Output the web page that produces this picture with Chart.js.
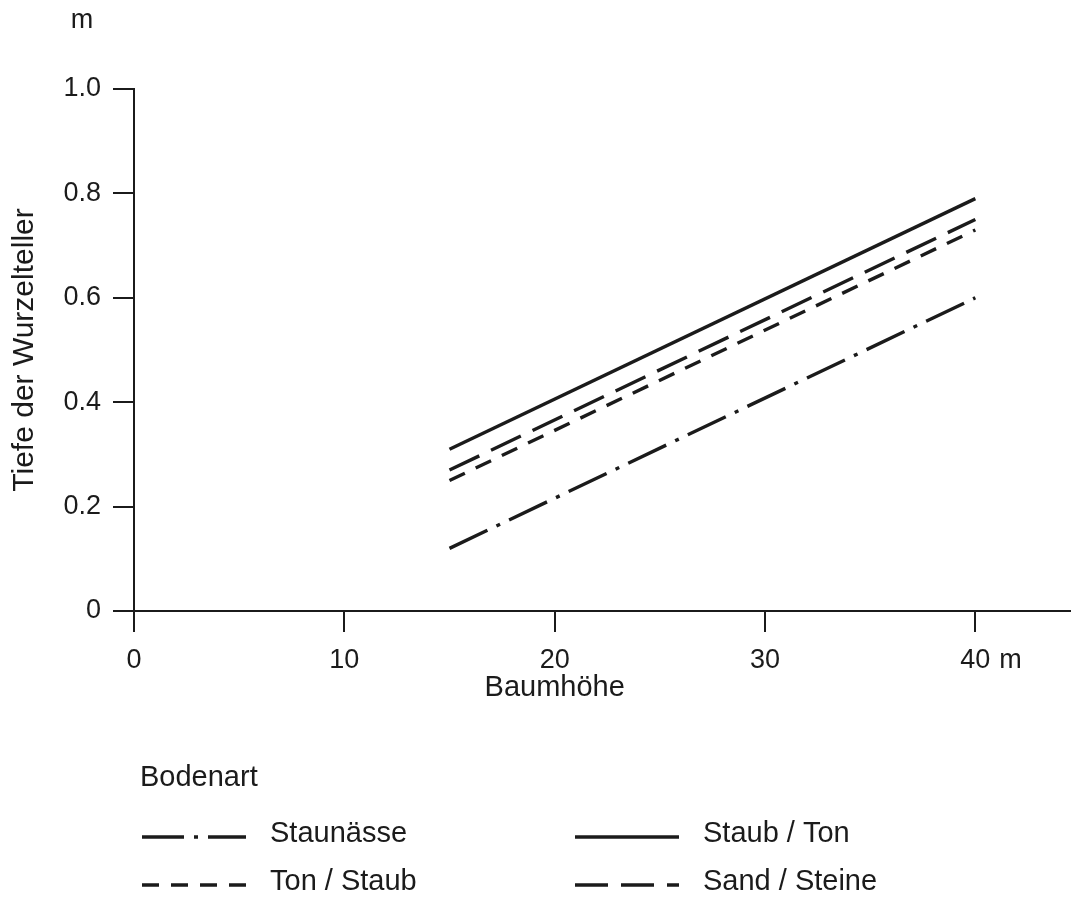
<!DOCTYPE html>
<html><head><meta charset="utf-8">
<script src="https://cdn.jsdelivr.net/npm/chart.js@4"></script>
<style>html,body{margin:0;padding:0;background:#fff}#wrap{width:1073px;height:903px}canvas{display:block}</style>
</head><body><div id="wrap"><canvas id="c" width="1073" height="903"></canvas></div>
<script>
// ---- data ----
const seriesNames = ['Staunässe', 'Staub / Ton', 'Ton / Staub', 'Sand / Steine'];
const baumhoehe = [15, 40];            // x values (m)
const staunaesse = [0.12, 0.60];
const staubTon = [0.31, 0.79];
const tonStaub = [0.25, 0.73];
const sandSteine = [0.27, 0.75];
const xTickValues = [0, 10, 20, 30, 40];
const xTickLabels = ['0', '10', '20', '30', '40'];
const yTickValues = [0, 0.2, 0.4, 0.6, 0.8, 1.0];
const yTickLabels = ['0', '0.2', '0.4', '0.6', '0.8', '1.0'];
const xTitle = 'Baumhöhe';
const yTitle = 'Tiefe der Wurzelteller';
const unitLabel = 'm';
const legendTitle = 'Bodenart';

const INK = '#1b1b1b';
const FONT = '"Liberation Sans", Arial, Helvetica, sans-serif';
const FS_TICK = 27;
const FS_TEXT = 29;
const FS_YTITLE = 30;

function pts(ys) { return baumhoehe.map((x, i) => ({x: x, y: ys[i]})); }

const dashes = {
  'Staunässe': [42, 10, 4, 10],
  'Staub / Ton': [],
  'Ton / Staub': [17, 12],
  'Sand / Steine': [33, 13]
};
const seriesData = {
  'Staunässe': staunaesse,
  'Staub / Ton': staubTon,
  'Ton / Staub': tonStaub,
  'Sand / Steine': sandSteine
};

const datasets = seriesNames.map(n => ({
  label: n,
  data: pts(seriesData[n]),
  borderColor: INK,
  borderWidth: 3.4,
  borderDash: dashes[n],
  borderCapStyle: 'butt',
  pointRadius: 0,
  fill: false,
  tension: 0
}));

const legendPlugin = {
  id: 'customText',
  afterDraw(chart) {
    const ctx = chart.ctx;
    const xs = chart.scales.x;
    ctx.save();
    ctx.fillStyle = INK;
    ctx.textBaseline = 'middle';
    // y unit
    ctx.font = FS_TICK + 'px ' + FONT;
    ctx.textAlign = 'center';
    ctx.fillText(unitLabel, 82, 21);
    // x unit after last tick
    const lastV = xTickValues[xTickValues.length - 1];
    const w = ctx.measureText(xTickLabels[xTickLabels.length - 1]).width;
    ctx.textAlign = 'left';
    ctx.fillText(unitLabel, xs.getPixelForValue(lastV) + w / 2 + 9, 661);
    // x title
    ctx.font = FS_TEXT + 'px ' + FONT;
    ctx.textAlign = 'center';
    ctx.fillText(xTitle, xs.getPixelForValue(20), 688);
    // legend
    ctx.textAlign = 'left';
    ctx.fillText(legendTitle, 140, 778);
    const cols = [142, 575];
    const rows = [837, 885];
    const order = [['Staunässe', 0, 0], ['Staub / Ton', 1, 0], ['Ton / Staub', 0, 1], ['Sand / Steine', 1, 1]];
    order.forEach(([name, c, r]) => {
      const ds = chart.data.datasets.find(d => d.label === name);
      const x0 = cols[c], y = rows[r];
      ctx.save();
      ctx.strokeStyle = ds.borderColor;
      ctx.lineWidth = ds.borderWidth;
      ctx.setLineDash(ds.borderDash);
      ctx.beginPath();
      ctx.moveTo(x0, y);
      ctx.lineTo(x0 + 104, y);
      ctx.stroke();
      ctx.restore();
      ctx.fillText(name, x0 + 128, y - 3);
    });
    ctx.restore();
  }
};

new Chart(document.getElementById('c'), {
  type: 'line',
  data: { datasets: datasets },
  options: {
    responsive: false,
    devicePixelRatio: 1,
    animation: false,
    layout: { padding: { top: 89, right: 3, left: 0, bottom: 0 } },
    plugins: { legend: { display: false }, tooltip: { enabled: false } },
    scales: {
      x: {
        type: 'linear',
        position: 'bottom',
        min: 0,
        max: 44.5,
        afterBuildTicks: s => { s.ticks = xTickValues.map(v => ({value: v})); },
        afterFit: s => { s.height = 292; },
        ticks: {
          callback: (v, i) => xTickLabels[i],
          color: INK,
          font: { family: FONT, size: FS_TICK },
          padding: 12,
          maxRotation: 0,
          autoSkip: false
        },
        grid: { drawOnChartArea: false, tickLength: 21, color: INK, lineWidth: 2 },
        border: { display: true, color: INK, width: 2 },
        title: { display: false }
      },
      y: {
        type: 'linear',
        position: 'left',
        min: 0,
        max: 1,
        afterBuildTicks: s => { s.ticks = yTickValues.map(v => ({value: v})); },
        afterFit: s => { s.width = 134; },
        ticks: {
          callback: (v, i) => yTickLabels[i],
          color: INK,
          font: { family: FONT, size: FS_TICK },
          padding: 12,
          autoSkip: false
        },
        grid: { drawOnChartArea: false, tickLength: 21, color: INK, lineWidth: 2 },
        border: { display: true, color: INK, width: 2 },
        title: {
          display: true,
          text: yTitle,
          color: INK,
          font: { family: FONT, size: FS_YTITLE },
          padding: { top: 7, bottom: 0 }
        }
      }
    }
  },
  plugins: [legendPlugin]
});
</script>
</body></html>
